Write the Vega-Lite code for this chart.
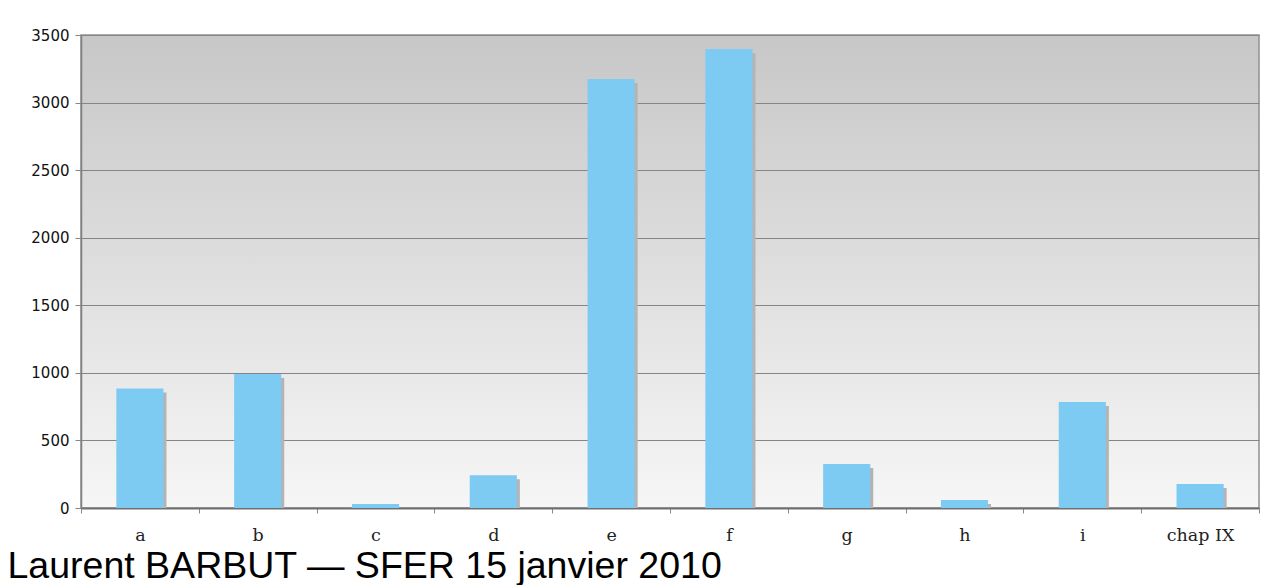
{
  "$schema": "https://vega.github.io/schema/vega-lite/v6.json",
  "autosize": {"type": "none"},
  "padding": {"left": 81, "top": 35, "right": 8, "bottom": 77},
  "width": 1178,
  "height": 473,
  "background": "#ffffff",
  "data": {"values": [
    {"cat": "a", "value": 885},
    {"cat": "b", "value": 992},
    {"cat": "c", "value": 30},
    {"cat": "d", "value": 242},
    {"cat": "e", "value": 3175},
    {"cat": "f", "value": 3397},
    {"cat": "g", "value": 326},
    {"cat": "h", "value": 59},
    {"cat": "i", "value": 785},
    {"cat": "chap IX", "value": 178}
  ]},
  "encoding": {
    "x": {"field": "cat", "type": "nominal", "sort": null,
      "scale": {"paddingInner": 0, "paddingOuter": 0},
      "axis": {
        "title": "Laurent BARBUT — SFER 15 janvier 2010",
        "titleFont": "Liberation Sans", "titleFontSize": 37.5, "titleFontWeight": "normal",
        "titleColor": "#000000", "titleAnchor": "start", "titleAlign": "left",
        "titleBaseline": "alphabetic", "titleX": -74, "titleY": 69,
        "labelAngle": 0, "labelFont": "DejaVu Serif", "labelFontSize": 17.5, "labelColor": "#222222",
        "labelPadding": 13, "bandPosition": 0, "tickBand": "extent",
        "ticks": true, "tickSize": 5, "tickColor": "#888888", "tickWidth": 1,
        "domainColor": "#707070", "domainWidth": 2, "grid": false
      }},
    "y": {"field": "value", "type": "quantitative",
      "scale": {"domain": [0, 3500], "nice": false},
      "axis": {
        "title": null, "values": [0, 500, 1000, 1500, 2000, 2500, 3000, 3500], "format": "d",
        "labelFont": "DejaVu Sans", "labelFontSize": 15, "labelColor": "#111111", "labelPadding": 6,
        "tickSize": 6, "tickColor": "#888888", "domainColor": "#808080", "domainWidth": 1.5,
        "grid": true, "gridColor": "#858585", "gridWidth": 1.2, "gridOpacity": 1
      }}
  },
  "layer": [
    {"mark": {"type": "bar", "color": "#b4b4b4", "width": {"band": 0.4}, "xOffset": 3, "yOffset": 4, "y2Offset": 0},
     "encoding": {"y2": {"datum": 0}}},
    {"mark": {"type": "bar", "color": "#7dcaf3", "width": {"band": 0.4}}}
  ],
  "config": {
    "view": {
      "stroke": "#909090", "strokeWidth": 1.5,
      "fill": {"gradient": "linear", "x1": 0, "y1": 0, "x2": 0, "y2": 1,
        "stops": [{"offset": 0, "color": "#c7c7c7"}, {"offset": 1, "color": "#f6f6f6"}]}
    }
  }
}
